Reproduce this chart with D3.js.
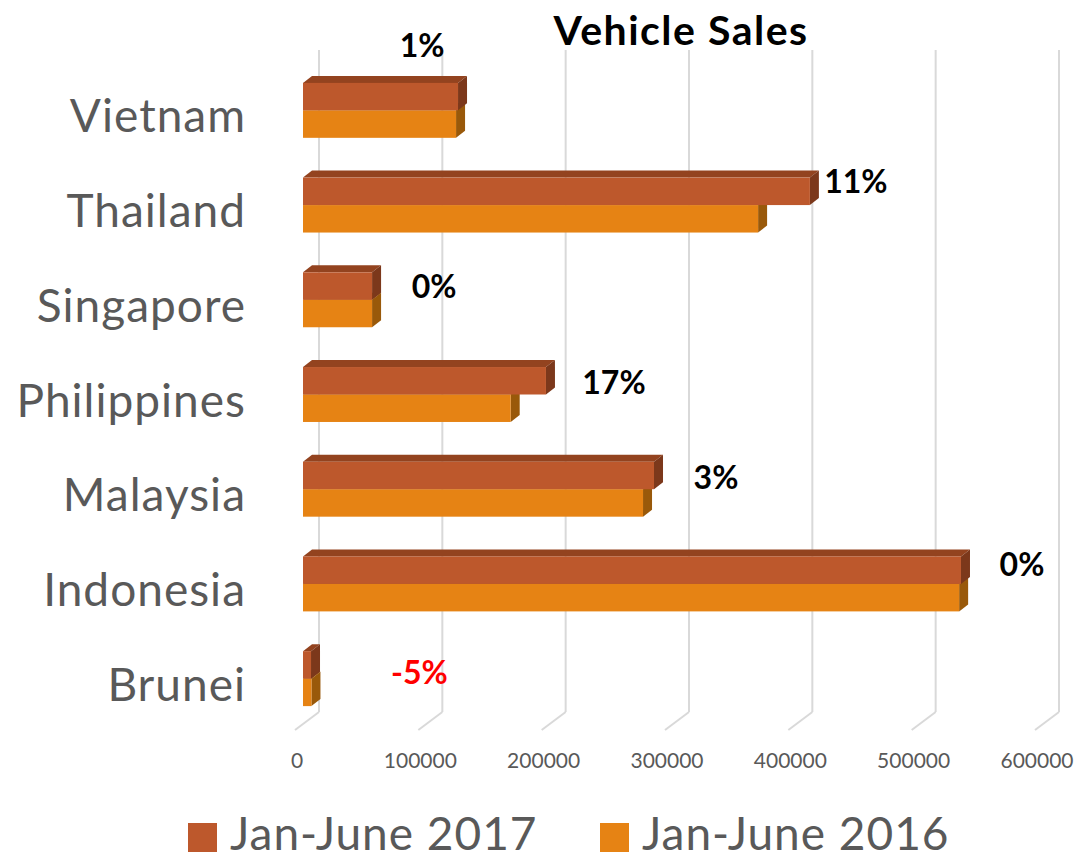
<!DOCTYPE html>
<html>
<head>
<meta charset="utf-8">
<script src="https://cdn.jsdelivr.net/npm/d3@7"></script>
<style>
  body { margin: 0; background: #fff; }
  text { font-family: Lato, "Open Sans", sans-serif; }
</style>
</head>
<body>
<script>
// vehicle sales, Jan-June, per country
const categories = ["Vietnam", "Thailand", "Singapore", "Philippines", "Malaysia", "Indonesia", "Brunei"];
const sales2017 = [125700, 411000, 56000, 197000, 284600, 533500, 6500];
const sales2016 = [124100, 369000, 56000, 168400, 275700, 532000, 6850];
const growthLabels = ["1%", "11%", "0%", "17%", "3%", "0%", "-5%"];
const seriesNames = ["Jan-June 2017", "Jan-June 2016"];
const tickValues = [0, 100000, 200000, 300000, 400000, 500000, 600000];

const w = 1076;
const h = 859;

const colors = {
  "Jan-June 2017": { front: "#bd582c", top: "#93431f", side: "#7c381b" },
  "Jan-June 2016": { front: "#e68314", top: "#b4650f", side: "#99590a" }
};

// oblique depth of a bar, and of the whole floor
const dx = 9, dy = -7;
const wallDx = 16, floorDx = -8, floorDy = 18;

const svg = d3.select("body")
  .append("svg")
  .attr("width", w)
  .attr("height", h);

const x = d3.scaleLinear()
  .domain([0, 600000])
  .range([303, 1043]);

const y = d3.scaleBand()
  .domain(categories)
  .range([63, 726])
  .paddingInner(0.42)
  .paddingOuter(0.21);

const sub = d3.scaleBand()
  .domain(seriesNames)
  .range([0, y.bandwidth()]);

const wallTop = 50, wallBottom = 712;

// gridlines on the back wall + floor diagonals
const grid = svg.append("g");
grid.selectAll("line.v")
  .data(tickValues)
  .enter()
  .append("line")
  .attr("class", "v")
  .attr("x1", d => x(d) + wallDx)
  .attr("x2", d => x(d) + wallDx)
  .attr("y1", wallTop)
  .attr("y2", wallBottom)
  .attr("stroke", "#d9d9d9")
  .attr("stroke-width", 2);
grid.selectAll("line.f")
  .data(tickValues)
  .enter()
  .append("line")
  .attr("class", "f")
  .attr("x1", d => x(d) + wallDx)
  .attr("x2", d => x(d) + floorDx)
  .attr("y1", wallBottom)
  .attr("y2", wallBottom + floorDy)
  .attr("stroke", "#d9d9d9")
  .attr("stroke-width", 2);

svg.append("g")
  .selectAll("text")
  .data(tickValues)
  .enter()
  .append("text")
  .text(d => d)
  .attr("x", d => x(d) + floorDx + 2)
  .attr("y", 768)
  .attr("text-anchor", "middle")
  .attr("font-size", "21px")
  .attr("fill", "#595959");

// bars
const rows = categories.map((c, i) => ({
  country: c,
  values: [
    { key: seriesNames[1], v: sales2016[i] },
    { key: seriesNames[0], v: sales2017[i] }
  ]
}));

function bar(g, key, v, y0) {
  const x0 = x(0), x1 = x(v), y1 = y0 + sub.bandwidth();
  const col = colors[key];
  g.append("polygon")
    .attr("points", [[x0, y0], [x0 + dx, y0 + dy], [x1 + dx, y0 + dy], [x1, y0]].join(" "))
    .attr("fill", col.top);
  g.append("polygon")
    .attr("points", [[x1, y0], [x1 + dx, y0 + dy], [x1 + dx, y1 + dy], [x1, y1]].join(" "))
    .attr("fill", col.side);
  g.append("rect")
    .attr("x", x0)
    .attr("y", y0)
    .attr("width", x1 - x0)
    .attr("height", y1 - y0)
    .attr("fill", col.front);
}

const barG = svg.append("g");
rows.forEach(r => {
  const g = barG.append("g");
  r.values.forEach(s => bar(g, s.key, s.v, y(r.country) + sub(s.key)));
});

// category labels
svg.append("g")
  .selectAll("text")
  .data(categories)
  .enter()
  .append("text")
  .text(d => d)
  .attr("x", 246)
  .attr("y", d => y(d) + y.bandwidth() / 2 + 22)
  .attr("text-anchor", "end")
  .attr("font-size", "46px")
  .attr("letter-spacing", "1px")
  .attr("fill", "#595959");

// growth labels, placed by hand like in the original
const labelNudge = {
  Vietnam: [-36, -53], Thailand: [46, -12], Singapore: [62, -2],
  Philippines: [68, -1], Malaysia: [62, 0], Indonesia: [61, -8], Brunei: [108, 5]
};
svg.append("g")
  .selectAll("text")
  .data(categories)
  .enter()
  .append("text")
  .text((d, i) => growthLabels[i])
  .attr("x", (d, i) => x(Math.max(sales2017[i], sales2016[i])) + labelNudge[d][0])
  .attr("y", d => y(d) + y.bandwidth() / 2 + labelNudge[d][1])
  .attr("text-anchor", "middle")
  .attr("font-size", "32px")
  .attr("font-weight", "bold")
  .attr("fill", (d, i) => growthLabels[i].startsWith("-") ? "#ff0000" : "#000");

// title
svg.append("text")
  .text("Vehicle Sales")
  .attr("x", 681)
  .attr("y", 45)
  .attr("text-anchor", "middle")
  .attr("font-size", "41px")
  .attr("letter-spacing", "1.5px")
  .attr("font-weight", "bold")
  .attr("fill", "#000");

// legend
const legend = svg.append("g")
  .selectAll("g")
  .data(seriesNames)
  .enter()
  .append("g")
  .attr("transform", (d, i) => "translate(" + (188 + i * 412) + ",823)");
legend.append("rect")
  .attr("width", 29)
  .attr("height", 29)
  .attr("fill", d => colors[d].front);
legend.append("text")
  .text(d => d)
  .attr("x", 42)
  .attr("y", 27)
  .attr("font-size", "46px")
  .attr("letter-spacing", "1px")
  .attr("fill", "#595959");
</script>
</body>
</html>
